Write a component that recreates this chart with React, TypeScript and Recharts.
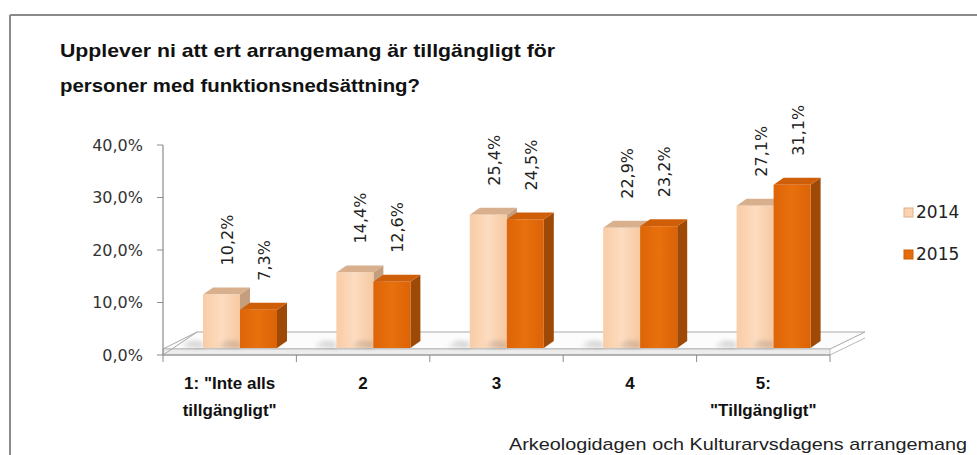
import React from 'react';
import { BarChart, Bar, XAxis, YAxis, Legend, LabelList, ReferenceArea } from 'recharts';

const categories = ['1: "Inte alls|tillgängligt"', '2', '3', '4', '5:|"Tillgängligt"'];
const values2014 = [0.102, 0.144, 0.254, 0.229, 0.271];
const values2015 = [0.073, 0.126, 0.245, 0.232, 0.311];
const yTicks = [0, 0.1, 0.2, 0.3, 0.4];
const seriesNames = ['2014', '2015'];
const titleLines = ['Upplever ni att ert arrangemang är tillgängligt för', 'personer med funktionsnedsättning?'];
const footerText = 'Arkeologidagen  och Kulturarvsdagens  arrangemang';

const data = categories.map((c, i) => ({ cat: c, v2014: values2014[i], v2015: values2015[i] }));

const COLORS = {
  '2014': { front: '#FBD3B1', top: '#D8B08E', side: '#C49E7D' },
  '2015': { front: '#E46C0A', top: '#CF5E08', side: '#9E4906' },
};

const DX = 10;
const DY = -7;
const DEPTH_X = 10;
const DEPTH_Y = 7;

const pct = (v: number) => (v * 100).toFixed(1).replace('.', ',') + '%';

const make3D = (key: '2014' | '2015') => (props: any) => {
  const { x, y, width, height } = props;
  const c = COLORS[key];
  const fx = x + DX;
  const fy = y + DY;
  const base = y + height + DY;
  return (
    <g>
      <polygon
        points={`${fx - 22},${base - 2} ${fx},${base} ${fx},${base - 6} ${fx - 12},${base - 7}`}
        fill="#666"
        opacity={0.28}
        filter="url(#shadowBlur)"
      />
      <polygon
        points={`${fx + width},${fy} ${fx + width + DEPTH_X},${fy - DEPTH_Y} ${fx + width + DEPTH_X},${base - DEPTH_Y} ${fx + width},${base}`}
        fill={c.side}
      />
      <polygon
        points={`${fx},${fy} ${fx + width},${fy} ${fx + width + DEPTH_X},${fy - DEPTH_Y} ${fx + DEPTH_X},${fy - DEPTH_Y}`}
        fill={c.top}
      />
      <rect x={fx} y={fy} width={width} height={height} fill={key === '2014' ? 'url(#g2014)' : 'url(#g2015)'} />
    </g>
  );
};

const makeLabel = (props: any) => {
  const { x, y, width, value } = props;
  const tx = Number(x) + DX + Number(width) / 2 + 6;
  const ty = Number(y) + DY - 29;
  return (
    <text
      x={tx}
      y={ty}
      transform={`rotate(-90 ${tx} ${ty})`}
      textAnchor="start"
      dominantBaseline="central"
      fontSize={16}
      fontFamily="DejaVu Sans"
      fill="#222"
    >
      {pct(Number(value))}
    </text>
  );
};

const Floor = (props: any) => {
  const { x, y, width, height } = props;
  const L = x;
  const R = x + width;
  const B = y + height;
  const n = categories.length;
  const ticks = [];
  for (let i = 0; i <= n; i++) {
    const tx = L + (i * width) / n;
    ticks.push(<line key={i} x1={tx} x2={tx} y1={B} y2={B + 7} stroke="#8c8c8c" strokeWidth={1} />);
  }
  return (
    <g>
      <polygon
        points={`${L},${B - 6} ${R},${B - 6} ${R + 35},${B - 23} ${L + 34},${B - 23}`}
        fill="#fcfcfc"
        stroke="#a8a8a8"
        strokeWidth={1}
      />
      <polygon points={`${L},${B - 6} ${R},${B - 6} ${R},${B} ${L},${B}`} fill="#ececec" stroke="#b0b0b0" strokeWidth={0.8} />
      <line x1={L} y1={B} x2={L + 34} y2={B - 23} stroke="#a8a8a8" strokeWidth={1} />
      <line x1={R} y1={B} x2={R + 35} y2={B - 17} stroke="#b8b8b8" strokeWidth={1} />
      <line x1={L} y1={B} x2={R} y2={B} stroke="#8c8c8c" strokeWidth={1.2} />
      {ticks}
    </g>
  );
};

const XTick = (props: any) => {
  const { x, y, payload } = props;
  const lines = String(payload.value).split('|');
  return (
    <g>
      {lines.map((ln, i) => (
        <text
          key={i}
          x={x}
          y={y + 26 + i * 27}
          textAnchor="middle"
          fontSize={17}
          fontWeight="bold"
          fontFamily="Liberation Sans Narrow, Liberation Sans, Arial"
          fill="#111"
        >
          {ln}
        </text>
      ))}
    </g>
  );
};

const LegendContent = () => (
  <svg width={70} height={70}>
    {seriesNames.map((s, i) => (
      <g key={s}>
        <rect
          x={2}
          y={8 + i * 42}
          width={9}
          height={9}
          fill={COLORS[s as '2014' | '2015'].front}
          stroke={COLORS[s as '2014' | '2015'].top}
          strokeWidth={1}
        />
        <text x={14} y={18 + i * 42} fontSize={17} fontFamily="DejaVu Sans" fill="#222">
          {s}
        </text>
      </g>
    ))}
  </svg>
);

export default function App() {
  return (
    <div style={{ position: 'absolute', left: 0, top: 0, width: 977, height: 455, background: '#fff', overflow: 'hidden' }}>
      <svg width={977} height={455} style={{ position: 'absolute', left: 0, top: 0 }}>
        <defs>
          <filter id="shadowBlur" x="-50%" y="-50%" width="200%" height="200%">
            <feGaussianBlur stdDeviation="2.5" />
          </filter>
          <linearGradient id="g2014" x1="0" y1="0" x2="1" y2="0">
            <stop offset="0" stopColor="#F8CCA6" />
            <stop offset="0.5" stopColor="#FDDCC0" />
            <stop offset="1" stopColor="#F6C9A2" />
          </linearGradient>
          <linearGradient id="g2015" x1="0" y1="0" x2="1" y2="0">
            <stop offset="0" stopColor="#DE6508" />
            <stop offset="0.5" stopColor="#E8700D" />
            <stop offset="1" stopColor="#DC6307" />
          </linearGradient>
        </defs>
        <line x1={10} y1={15} x2={977} y2={15} stroke="#8a8a8a" strokeWidth={2} />
        <line x1={10} y1={15} x2={10} y2={455} stroke="#8a8a8a" strokeWidth={2} />
        <text x={60} y={57} fontSize={19} fontWeight="bold" fontFamily="Liberation Sans" fill="#111" textLength={495} lengthAdjust="spacingAndGlyphs">
          {titleLines[0]}
        </text>
        <text x={60} y={92} fontSize={19} fontWeight="bold" fontFamily="Liberation Sans" fill="#111" textLength={360} lengthAdjust="spacingAndGlyphs">
          {titleLines[1]}
        </text>
        <text x={509} y={450} fontSize={17} fontFamily="Liberation Sans" fill="#222" textLength={458} lengthAdjust="spacingAndGlyphs">
          {footerText}
        </text>
      </svg>
      <div style={{ position: 'absolute', left: 0, top: 0 }}>
        <BarChart
          width={977}
          height={455}
          data={data}
          margin={{ top: 145, right: 147, bottom: 40, left: 63 }}
          barGap={0}
          barSize={37}
        >
          <ReferenceArea y1={0} y2={0.4} shape={<Floor />} ifOverflow="visible" />
          <XAxis dataKey="cat" height={60} axisLine={false} tickLine={false} tick={<XTick />} interval={0} />
          <YAxis
            width={100}
            domain={[0, 0.4]}
            ticks={yTicks}
            tickFormatter={pct}
            axisLine={{ stroke: '#8c8c8c', strokeWidth: 1.2 }}
            tickLine={{ stroke: '#8c8c8c' }}
            tickSize={6}
            tickMargin={14}
            tick={{ fontSize: 16, fontFamily: 'DejaVu Sans', fill: '#333' }}
          />
          <Legend
            layout="horizontal"
            verticalAlign="middle"
            content={<LegendContent />}
            wrapperStyle={{ position: 'absolute', left: 902, top: 200, width: 70, height: 70 }}
          />
          <Bar dataKey="v2014" name={seriesNames[0]} shape={make3D('2014')} isAnimationActive={false}>
            <LabelList dataKey="v2014" content={makeLabel} />
          </Bar>
          <Bar dataKey="v2015" name={seriesNames[1]} shape={make3D('2015')} isAnimationActive={false}>
            <LabelList dataKey="v2015" content={makeLabel} />
          </Bar>
        </BarChart>
      </div>
    </div>
  );
}
